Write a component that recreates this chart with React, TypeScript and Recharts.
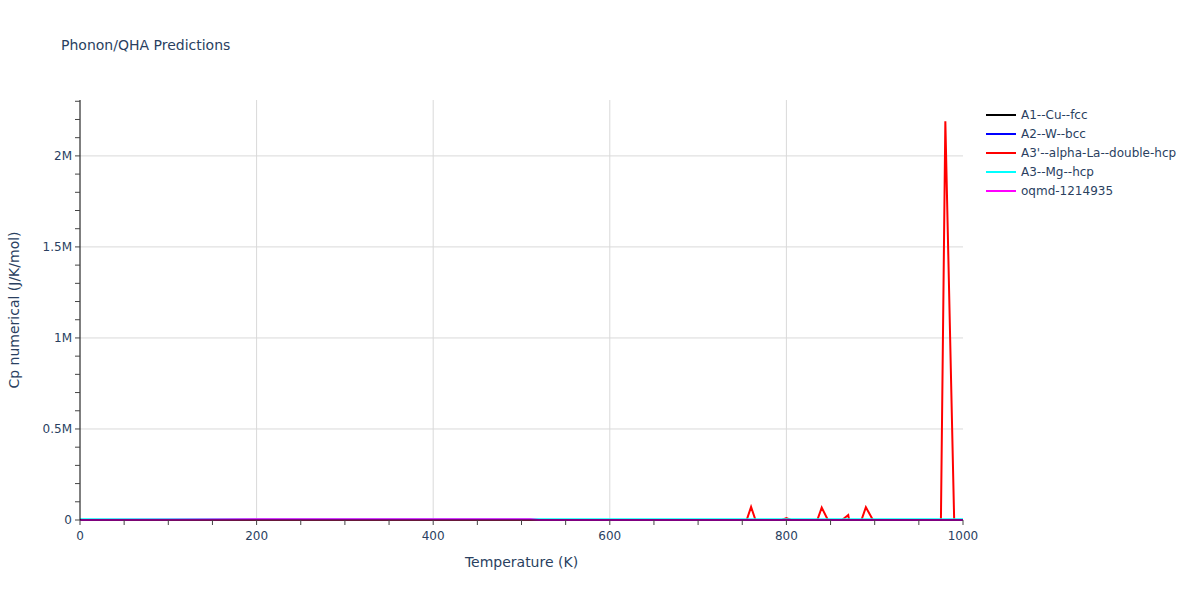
import { LineChart, Line, XAxis, YAxis, CartesianGrid } from "recharts";

const FONT = '"DejaVu Sans", Verdana, sans-serif';
const TEXT = "#2a3f5f";

// Temperature grids (K) and Cp numerical values (J/K/mol) per structure
const cuTemps = [0, 50, 100, 150, 200, 250, 300, 350, 400, 450, 500, 510];
const cuCp = [0, 12, 19, 22, 23.4, 24, 24.5, 24.9, 25.3, 25.6, 25.9, 26];

const wTemps = [0, 100, 200, 300, 400, 500, 600, 700, 800, 900, 1000];
const wCp = [0, 16, 22, 23.5, 24.3, 24.8, 25.2, 25.6, 26, 26.4, 26.8];

const laTemps = [
  0, 100, 200, 300, 400, 500, 600, 700, 755, 760, 765, 795, 800, 805, 835, 840,
  847, 863, 870, 871, 885, 890, 898, 975, 980, 990,
];
const laCp = [
  0, 20, 25, 27, 28, 29, 30, 30, 0, 72000, 0, 0, 10000, 0, 0, 68000,
  0, 0, 27000, 0, 0, 70000, 0, 0, 2190000, 0,
];

const mgTemps = [0, 100, 200, 300, 400, 500, 600, 700, 800, 900, 1000];
const mgCp = [4500, 4500, 4500, 4500, 4500, 4500, 4500, 4500, 4500, 4500, 4500];

const oqTemps = [0, 100, 200, 300, 400, 500, 510, 520, 600, 700, 800, 900, 1000];
const oqCp = [0, 1500, 3500, 4000, 4000, 4000, 4000, 0, 0, 0, 0, 0, 0];

const X_MAX = 1000;
const Y_MAX = 2307000;
const xMajor = [200, 400, 600, 800];
const xTicks = [0, 50, 100, 150, 200, 250, 300, 350, 400, 450, 500, 550, 600, 650, 700, 750, 800, 850, 900, 950, 1000];
const yMajor = [500000, 1000000, 1500000, 2000000];
const yTicks = [0, 100000, 200000, 300000, 400000, 500000, 600000, 700000, 800000, 900000, 1000000, 1100000, 1200000, 1300000, 1400000, 1500000, 1600000, 1700000, 1800000, 1900000, 2000000, 2100000, 2200000, 2300000];

const series = [
  { name: "A1--Cu--fcc", color: "#000000", temps: cuTemps, values: cuCp },
  { name: "A2--W--bcc", color: "#0000ff", temps: wTemps, values: wCp },
  { name: "A3'--alpha-La--double-hcp", color: "#ff0000", temps: laTemps, values: laCp },
  { name: "A3--Mg--hcp", color: "#00ffff", temps: mgTemps, values: mgCp },
  { name: "oqmd-1214935", color: "#ff00ff", temps: oqTemps, values: oqCp },
];

const fmtX = (v: number) => (v % 200 === 0 ? String(v) : "");
const fmtY = (v: number) => (v === 0 ? "0" : v % 500000 === 0 ? `${v / 1000000}M` : "");

// gridlines only at major ticks, placed from the plot offset
const vGrid = ({ offset }: any) => xMajor.map((v) => offset.left + (offset.width * v) / X_MAX);
const hGrid = ({ offset }: any) => yMajor.map((v) => offset.top + offset.height * (1 - v / Y_MAX));

export default function App() {
  return (
    <div style={{ position: "absolute", left: 0, top: 0, width: 1200, height: 600, background: "#fff", fontFamily: FONT }}>
      <div style={{ position: "absolute", left: 61, top: 37, fontSize: 14, color: TEXT }}>
        Phonon/QHA Predictions
      </div>
      <LineChart width={1200} height={600} margin={{ top: 100, right: 237, bottom: 50, left: 20 }}>
        <CartesianGrid
          stroke="#d9d9d9"
          strokeWidth={1}
          verticalCoordinatesGenerator={vGrid}
          horizontalCoordinatesGenerator={hGrid}
        />
        <XAxis
          type="number"
          dataKey="t"
          domain={[0, X_MAX]}
          ticks={xTicks}
          interval={0}
          height={30}
          tickSize={5}
          tickMargin={6}
          tickFormatter={fmtX}
          axisLine={{ stroke: "#000" }}
          tickLine={{ stroke: "#444" }}
          tick={{ fill: TEXT, fontSize: 12, fontFamily: FONT }}
        />
        <YAxis
          type="number"
          domain={[0, Y_MAX]}
          ticks={yTicks}
          interval={0}
          width={60}
          tickSize={5}
          tickMargin={3}
          tickFormatter={fmtY}
          axisLine={{ stroke: "#000" }}
          tickLine={{ stroke: "#444" }}
          tick={{ fill: TEXT, fontSize: 12, fontFamily: FONT }}
        />
        {series.map((s) => (
          <Line
            key={s.name}
            data={s.temps.map((t, i) => ({ t, v: s.values[i] }))}
            dataKey="v"
            name={s.name}
            stroke={s.color}
            strokeWidth={2}
            dot={false}
            type="linear"
            isAnimationActive={false}
          />
        ))}
      </LineChart>
      <div style={{ position: "absolute", left: 0, width: 1043, top: 554, textAlign: "center", fontSize: 14, color: TEXT }}>
        Temperature (K)
      </div>
      <div
        style={{
          position: "absolute",
          left: 14,
          top: 310,
          fontSize: 14,
          color: TEXT,
          whiteSpace: "nowrap",
          transform: "translate(-50%, -50%) rotate(-90deg)",
        }}
      >
        Cp numerical (J/K/mol)
      </div>
      <div style={{ position: "absolute", left: 986, top: 105 }}>
        {series.map((s) => (
          <div key={s.name} style={{ display: "flex", alignItems: "center", height: 19, fontSize: 12, color: TEXT }}>
            <div style={{ width: 30, height: 2, background: s.color, marginRight: 5 }} />
            <span>{s.name}</span>
          </div>
        ))}
      </div>
    </div>
  );
}
